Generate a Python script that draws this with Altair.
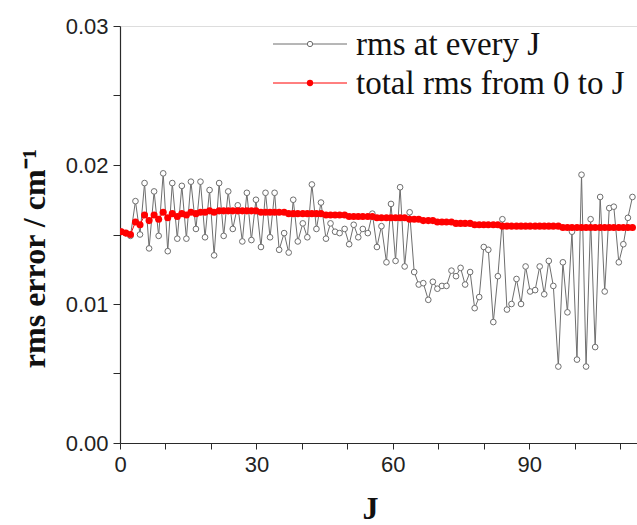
import altair as alt
import pandas as pd

# J position of every point
J = [
    0.3, 1.3, 2.3, 3.4, 4.4, 5.4, 6.4, 7.5, 8.5, 9.5,
    10.5, 11.5, 12.6, 13.6, 14.6, 15.6, 16.7, 17.7, 18.7, 19.7,
    20.7, 21.8, 22.8, 23.8, 24.8, 25.9, 26.9, 27.9, 28.9, 29.9,
    31.0, 32.0, 33.0, 34.0, 35.0, 36.1, 37.1, 38.1, 39.1, 40.2,
    41.2, 42.2, 43.2, 44.2, 45.3, 46.3, 47.3, 48.3, 49.4, 50.4,
    51.4, 52.4, 53.4, 54.5, 55.5, 56.5, 57.5, 58.6, 59.6, 60.6,
    61.6, 62.6, 63.7, 64.7, 65.7, 66.7, 67.8, 68.8, 69.8, 70.8,
    71.8, 72.9, 73.9, 74.9, 75.9, 77.0, 78.0, 79.0, 80.0, 81.0,
    82.1, 83.1, 84.1, 85.1, 86.1, 87.2, 88.2, 89.2, 90.2, 91.3,
    92.3, 93.3, 94.3, 95.3, 96.4, 97.4, 98.4, 99.4, 100.5, 101.5,
    102.5, 103.5, 104.5, 105.6, 106.6, 107.6, 108.6, 109.7, 110.7, 111.7,
    112.7,
]

# rms error at every J (gray open circles)
rms_each = [
    0.0152, 0.0151, 0.0149, 0.0174, 0.0150, 0.0187, 0.0140, 0.0181, 0.0149, 0.0194,
    0.0138, 0.0187, 0.0147, 0.0185, 0.0147, 0.0188, 0.0154, 0.0188, 0.0148, 0.0182,
    0.0135, 0.0187, 0.0149, 0.0181, 0.0154, 0.0171, 0.0145, 0.0180, 0.0146, 0.0175,
    0.0141, 0.0180, 0.0148, 0.0180, 0.0139, 0.0151, 0.0137, 0.0175, 0.0145, 0.0158,
    0.0148, 0.0186, 0.0154, 0.0173, 0.0147, 0.0158, 0.0152, 0.0151, 0.0154, 0.0143,
    0.0157, 0.0148, 0.0154, 0.0151, 0.0165, 0.0141, 0.0156, 0.0130, 0.0172, 0.0131,
    0.0184, 0.0127, 0.0166, 0.0123, 0.0114, 0.0115, 0.0103, 0.0116, 0.0111, 0.0113,
    0.0113, 0.0124, 0.0120, 0.0126, 0.0114, 0.0123, 0.0097, 0.0105, 0.0141, 0.0139,
    0.0087, 0.0120, 0.0161, 0.0096, 0.0100, 0.0118, 0.0100, 0.0127, 0.0109, 0.0110,
    0.0127, 0.0107, 0.0131, 0.0113, 0.0055, 0.0130, 0.0094, 0.0152, 0.0060, 0.0193,
    0.0055, 0.0161, 0.0069, 0.0177, 0.0109, 0.0169, 0.0170, 0.0130, 0.0143, 0.0162,
    0.0177,
]

# total rms from 0 to J (red filled dots)
rms_total = [
    0.0152, 0.0151, 0.0150, 0.0159, 0.0157, 0.0164, 0.0160, 0.0164, 0.0161, 0.0166,
    0.0162, 0.0165, 0.0163, 0.0165, 0.0164, 0.0166, 0.0165, 0.0166, 0.0166, 0.0167,
    0.0166, 0.0167, 0.0167, 0.0167, 0.0167, 0.0167, 0.0167, 0.0167, 0.0167, 0.0167,
    0.0166, 0.0166, 0.0166, 0.0166, 0.0166, 0.0166, 0.0165, 0.0165, 0.0165, 0.0165,
    0.0165, 0.0165, 0.0165, 0.0165, 0.0164, 0.0164, 0.0164, 0.0164, 0.0164, 0.0163,
    0.0163, 0.0163, 0.0163, 0.0163, 0.0163, 0.0162, 0.0162, 0.0162, 0.0162, 0.0162,
    0.0162, 0.0162, 0.0161, 0.0161, 0.0161, 0.0160, 0.0160, 0.0160, 0.0159, 0.0159,
    0.0159, 0.0159, 0.0158, 0.0158, 0.0158, 0.0158, 0.0157, 0.0157, 0.0157, 0.0157,
    0.0157, 0.0157, 0.0156, 0.0156, 0.0156, 0.0156, 0.0156, 0.0156, 0.0156, 0.0156,
    0.0156, 0.0156, 0.0156, 0.0156, 0.0156, 0.0155, 0.0155, 0.0155, 0.0155, 0.0155,
    0.0155, 0.0155, 0.0155, 0.0155, 0.0155, 0.0155, 0.0155, 0.0155, 0.0155, 0.0155,
    0.0155,
]

x_ticks = [0, 10, 20, 30, 40, 50, 60, 70, 80, 90, 100, 110]
y_ticks = [0.0, 0.005, 0.01, 0.015, 0.02, 0.025, 0.03]
legend_labels = ["rms at every J", "total rms from 0 to J"]

df = pd.DataFrame({"J": J, "each": rms_each, "total": rms_total})

W, H = 517, 417
GRAY = "#6e6e6e"
AXC = "#2a2a2a"

xscale = alt.Scale(domain=[0, 113.7], nice=False, zero=False)
yscale = alt.Scale(domain=[0, 0.03], nice=False)

xaxis = alt.Axis(
    values=x_ticks,
    labelExpr="datum.value % 30 === 0 ? datum.label : ''",
    format="d",
    title="J",
    titleFont="Liberation Serif", titleFontSize=32, titleFontWeight="bold",
    titleColor="#111", titleX=250, titleY=75, titleAlign="center",
    titleBaseline="alphabetic",
    labelFont="Liberation Sans", labelFontSize=22, labelColor="#222",
    labelPadding=5, tickSize=6, tickColor=AXC, domainColor=AXC,
    tickWidth=1, domainWidth=1.2, grid=False, labelFlush=False,
)
yaxis = alt.Axis(
    values=y_ticks,
    labelExpr="abs(datum.value*100 - round(datum.value*100)) < 0.001 ? format(datum.value, '.2f') : ''",
    title="rms error / cm\u207b\u00b9",
    titleFont="Liberation Serif", titleFontSize=32, titleFontWeight="bold",
    titleColor="#111", titleAngle=-90, titleX=-76, titleY=232,
    titleAlign="center", titleBaseline="alphabetic",
    labelFont="Liberation Sans", labelFontSize=22, labelColor="#222",
    labelPadding=5, tickSize=7, tickColor=AXC, domainColor=AXC,
    tickWidth=1, domainWidth=1.2, grid=False, labelFlush=False,
)

base = alt.Chart(df)
x_enc = alt.X("J:Q", scale=xscale, axis=xaxis)

gray_line = base.mark_line(color=GRAY, strokeWidth=1, clip=True).encode(
    x=x_enc, y=alt.Y("each:Q", scale=yscale, axis=yaxis)
)
gray_pts = base.mark_point(
    shape="circle", filled=True, fill="white", stroke=GRAY, strokeWidth=1,
    size=32, opacity=1, clip=True
).encode(x=alt.X("J:Q", scale=xscale), y=alt.Y("each:Q", scale=yscale))
red_line = base.mark_line(color="#ff0000", strokeWidth=1, clip=True).encode(
    x=alt.X("J:Q", scale=xscale), y=alt.Y("total:Q", scale=yscale)
)
red_pts = base.mark_circle(color="#ff0000", size=50, opacity=1, clip=True).encode(
    x=alt.X("J:Q", scale=xscale), y=alt.Y("total:Q", scale=yscale)
)

# legend (drawn manually)
leg = pd.DataFrame({"label": legend_labels})
leg1 = alt.Chart(leg.iloc[[0]])
leg2 = alt.Chart(leg.iloc[[1]])
l1_line = leg1.mark_rule(color=GRAY, strokeWidth=1).encode(
    x=alt.value(153), x2=alt.value(227), y=alt.value(18))
l1_pt = leg1.mark_point(shape="circle", filled=True, fill="white", stroke=GRAY,
                        strokeWidth=1, size=28, opacity=1).encode(
    x=alt.value(190), y=alt.value(18))
l1_txt = leg1.mark_text(align="left", baseline="alphabetic", font="Liberation Serif",
                        fontSize=33, color="#111").encode(
    x=alt.value(236), y=alt.value(29), text="label:N")
l2_line = leg2.mark_rule(color="#ff0000", strokeWidth=1).encode(
    x=alt.value(153), x2=alt.value(227), y=alt.value(57))
l2_pt = leg2.mark_circle(color="#ff0000", size=40, opacity=1).encode(
    x=alt.value(190), y=alt.value(57))
l2_txt = leg2.mark_text(align="left", baseline="alphabetic", font="Liberation Serif",
                        fontSize=33, color="#111").encode(
    x=alt.value(236), y=alt.value(68), text="label:N")

chart = alt.layer(
    gray_line, gray_pts, red_line, red_pts,
    l1_line, l1_pt, l1_txt, l2_line, l2_pt, l2_txt
).properties(
    width=W, height=H,
    autosize=alt.AutoSizeParams(type="none"),
    padding={"left": 120, "top": 26, "right": 0, "bottom": 82},
).configure_view(stroke=None).configure(background="white")

chart.save("out.html", embed_options={"renderer": "svg", "actions": False})
